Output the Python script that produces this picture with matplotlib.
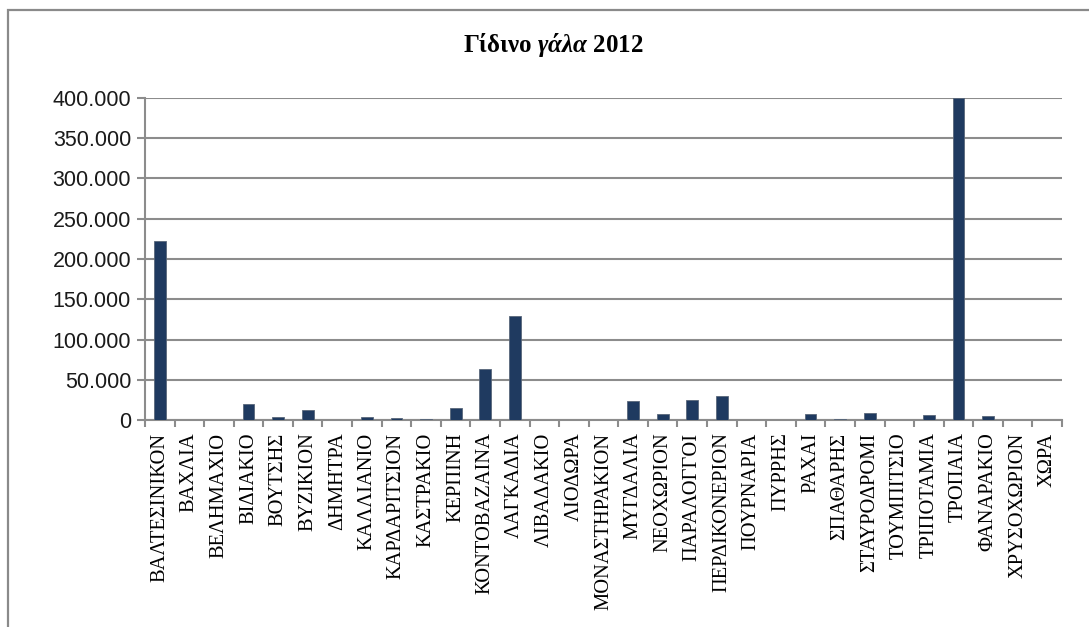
import matplotlib
matplotlib.use("Agg")
import matplotlib.pyplot as plt
from matplotlib.patches import Rectangle
from matplotlib.ticker import FixedLocator, FuncFormatter

plt.rcParams["mathtext.fontset"] = "custom"
plt.rcParams["mathtext.it"] = "Liberation Serif:bold:italic"
plt.rcParams["mathtext.rm"] = "Liberation Serif:bold"
plt.rcParams["mathtext.bf"] = "Liberation Serif:bold"

categories = ["ΒΑΛΤΕΣΙΝΙΚΟΝ", "ΒΑΧΛΙΑ", "ΒΕΛΗΜΑΧΙΟ", "ΒΙΔΙΑΚΙΟ", "ΒΟΥΤΣΗΣ",
              "ΒΥΖΙΚΙΟΝ", "ΔΗΜΗΤΡΑ", "ΚΑΛΛΙΑΝΙΟ", "ΚΑΡΔΑΡΙΤΣΙΟΝ", "ΚΑΣΤΡΑΚΙΟ",
              "ΚΕΡΠΙΝΗ", "ΚΟΝΤΟΒΑΖΑΙΝΑ", "ΛΑΓΚΑΔΙΑ", "ΛΙΒΑΔΑΚΙΟ", "ΛΙΟΔΩΡΑ",
              "ΜΟΝΑΣΤΗΡΑΚΙΟΝ", "ΜΥΓΔΑΛΙΑ", "ΝΕΟΧΩΡΙΟΝ", "ΠΑΡΑΛΟΓΓΟΙ", "ΠΕΡΔΙΚΟΝΕΡΙΟΝ",
              "ΠΟΥΡΝΑΡΙΑ", "ΠΥΡΡΗΣ", "ΡΑΧΑΙ", "ΣΠΑΘΑΡΗΣ", "ΣΤΑΥΡΟΔΡΟΜΙ",
              "ΤΟΥΜΠΙΤΣΙΟ", "ΤΡΙΠΟΤΑΜΙΑ", "ΤΡΟΠΑΙΑ", "ΦΑΝΑΡΑΚΙΟ", "ΧΡΥΣΟΧΩΡΙΟΝ", "ΧΩΡΑ"]
values = [222000, 0, 0, 19500, 4000,
          12000, 0, 4000, 2500, 1000,
          15000, 63000, 129500, 0, 0,
          0, 24000, 7500, 25000, 30000,
          0, 0, 8000, 800, 8500,
          0, 6500, 400000, 4500, 0, 0]
y_ticks = [0, 50000, 100000, 150000, 200000, 250000, 300000, 350000, 400000]

W, H = 1089, 627
fig = plt.figure(figsize=(W / 100, H / 100), dpi=100)
fig.patch.set_facecolor("white")

# outer chart border (extends past right/bottom edges)
fig.patches.append(Rectangle((8 / W, -0.1), 1.2, 1.1 - 10 / H, transform=fig.transFigure,
                             fill=False, edgecolor="#8a8a8a", linewidth=1.6, zorder=0))

left, right, top, bottom = 145, 1062, 98, 420
ax = fig.add_axes([left / W, 1 - bottom / H, (right - left) / W, (bottom - top) / H])

grid_c = "#8c8c8c"
x = list(range(len(categories)))
ax.bar(x, values, width=0.4, color="#1f3a60", edgecolor="#59677a", linewidth=0.6, zorder=3)

ax.set_xlim(-0.5, len(categories) - 0.5)
ax.set_ylim(0, 400000)
ax.yaxis.set_major_locator(FixedLocator(y_ticks))
ax.yaxis.set_major_formatter(FuncFormatter(lambda v, p: f"{int(v):,}".replace(",", ".")))
ax.grid(axis="y", color=grid_c, linewidth=1.5, zorder=1)
ax.set_axisbelow(True)

ax.set_xticks(x)
ax.set_xticklabels(categories, rotation=90, family="Liberation Serif", fontsize=14.8,
                   ha="center", va="top")
ax.set_xticks([i - 0.5 for i in range(len(categories) + 1)], minor=True)
ax.tick_params(axis="x", which="major", length=0, pad=9)
ax.tick_params(axis="x", which="minor", length=5, width=1.5, color=grid_c)
ax.tick_params(axis="y", length=6, width=1.5, color=grid_c, labelsize=15.5, pad=4)
for lab in ax.get_yticklabels():
    lab.set_family("Liberation Sans")
    lab.set_color("#1a1a1a")

for s in ["top", "right"]:
    ax.spines[s].set_visible(False)
for s in ["left", "bottom"]:
    ax.spines[s].set_color(grid_c)
    ax.spines[s].set_linewidth(1.5)

fig.text(553 / W, 1 - 45 / H, r"Γίδινο $\mathit{γάλα}$ 2012", ha="center", va="center",
         family="Liberation Serif", fontweight="bold", fontsize=18)

fig.savefig("out.png", dpi=100)
